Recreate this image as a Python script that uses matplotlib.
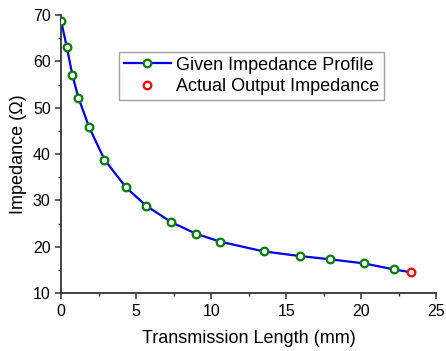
import matplotlib
matplotlib.use("Agg")
import matplotlib.pyplot as plt
from matplotlib.ticker import MultipleLocator
from matplotlib.lines import Line2D

plt.rcParams['font.family'] = ['Liberation Sans', 'DejaVu Sans']

given_x = [0.0, 0.38, 0.75, 1.15, 1.87, 2.89, 4.33, 5.65, 7.35, 9.0, 10.6,
           13.5, 15.9, 17.9, 20.2, 22.2]
given_y = [68.7, 63.1, 57.1, 52.2, 45.8, 38.8, 32.8, 28.9, 25.3, 22.8, 21.1,
           19.0, 18.0, 17.3, 16.4, 15.1]
actual_x = [23.3]
actual_y = [14.5]

fig = plt.figure(figsize=(4.46, 3.51), dpi=100)
ax = fig.add_axes([0.137, 0.165, 0.841, 0.792])

line_x = given_x + actual_x
line_y = given_y + actual_y
ax.plot(line_x, line_y, color='#0000ee', lw=1.6, zorder=2)
ax.plot(given_x, given_y, ls='none', marker='o', ms=5.5, mfc='white',
        mec='#008000', mew=1.6, zorder=3)
ax.plot(actual_x, actual_y, ls='none', marker='o', ms=5.5, mfc='white',
        mec='#ff0000', mew=1.6, zorder=3)

ax.set_xlim(0, 25)
ax.set_ylim(10, 70)
ax.xaxis.set_major_locator(MultipleLocator(5))
ax.xaxis.set_minor_locator(MultipleLocator(2.5))
ax.yaxis.set_major_locator(MultipleLocator(10))
ax.yaxis.set_minor_locator(MultipleLocator(5))
ax.spines['top'].set_visible(False)
ax.spines['right'].set_visible(False)
for s in ['left', 'bottom']:
    ax.spines[s].set_color('#333333')
    ax.spines[s].set_linewidth(1.3)
ax.tick_params(which='major', direction='out', length=4, width=1.1, labelsize=11.5, color='#333333')
ax.tick_params(which='minor', direction='out', length=2.5, width=1.0, color='#333333')

ax.set_xlabel('Transmission Length (mm)', fontsize=13, labelpad=8)
ax.set_ylabel('Impedance (Ω)', fontsize=13, labelpad=4)

handles = [
    Line2D([], [], color='#0000ee', lw=1.6, marker='o', ms=5.5, mfc='white',
           mec='#008000', mew=1.6),
    Line2D([], [], ls='none', marker='o', ms=5.5, mfc='white', mec='#ff0000', mew=1.6),
]
leg = ax.legend(handles, ['Given Impedance Profile', 'Actual Output Impedance'],
                loc='upper left', bbox_to_anchor=(0.155, 0.867), fontsize=13,
                frameon=True, fancybox=False, edgecolor='#888888',
                borderpad=0.25, handlelength=2.6, handletextpad=0.3,
                labelspacing=0.25, borderaxespad=0)
leg.get_frame().set_linewidth(1.0)

fig.savefig('out.png', dpi=100)
